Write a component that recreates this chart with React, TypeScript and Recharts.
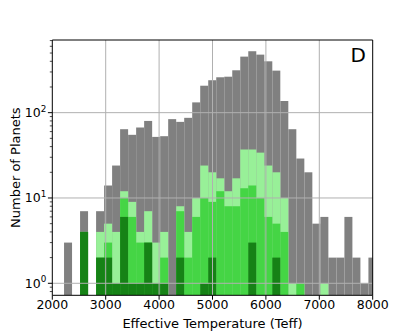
import React from "react";
import { BarChart, Bar, XAxis, YAxis, ReferenceLine } from "recharts";

// histogram bin centres (bins are 150 K wide)
const binCenters = [
  2295, 2445, 2595, 2745, 2895, 3045, 3195, 3345, 3495, 3645, 3795, 3945, 4095,
  4245, 4395, 4545, 4695, 4845, 4995, 5145, 5295, 5445, 5595, 5745, 5895, 6045,
  6195, 6345, 6495, 6645, 6795, 6945, 7095, 7245, 7395, 7545, 7695, 7845, 7995,
];

// counts per bin, null = empty bin
const allPlanets = [
  3, null, 7, null, 7, 14, 24, 64, 55, 67, 80, 52, 53, 84, 78, 87, 132, 207,
  240, 260, 264, 314, 454, 525, 479, 400, 311, 137, 64, 29, 20, 5, 6, 2, 2, 6,
  2, 1, 2,
];
const lightCounts = [
  null, null, 4, null, 4, 5, 4, 12, 9, 4, 7, 3, 4, null, 8, 4, 10, 24, 20, 17,
  12, 17, 37, 37, 34, 24, 20, 10, 1, 1, null, null, 1, null, null, null, null,
  null, null,
];
const mediumCounts = [
  null, null, 4, null, 2, 3, 1, 10, 6, 3, 3, 1, 2, null, 7, 2, 6, 10, 9, 12, 8,
  8, 13, 14, 10, 6, 5, 4, null, 1, null, null, null, null, null, null, null,
  null, null,
];
const darkCounts = [
  null, null, 4, null, 2, 2, 1, 6, 1, 1, 3, 1, 1, null, 2, null, null, 1, 2,
  null, null, null, null, 3, null, null, 2, null, null, null, null, null, null,
  null, null, null, null, null, null,
];

const xTicks = [2000, 3000, 4000, 5000, 6000, 7000, 8000];
const yMajor = [1, 10, 100];
const yMinor = [
  0.8, 0.9, 2, 3, 4, 5, 6, 7, 8, 9, 20, 30, 40, 50, 60, 70, 80, 90, 200, 300,
  400, 500, 600, 700,
];

const data = binCenters.map((x, i) => ({
  x,
  all: allPlanets[i],
  light: lightCounts[i],
  medium: mediumCounts[i],
  dark: darkCounts[i],
}));

const FONT = "DejaVu Sans";
const GRID = "#b0b0b0";

const barShape = (key: string) => (props: any) => {
  const { x, y, width, height, fill, payload } = props;
  if (payload[key] == null || !isFinite(y) || !isFinite(height)) return <g />;
  return <rect x={x} y={y} width={width} height={height} fill={fill} />;
};

function YTick(props: any) {
  const { x, y, payload } = props;
  const v = payload.value;
  const major = yMajor.includes(v);
  const exp = Math.round(Math.log10(v));
  return (
    <g>
      <line
        x1={x - (major ? 4.4 : 2.5)}
        x2={x}
        y1={y}
        y2={y}
        stroke="#000"
        strokeWidth={major ? 1 : 0.7}
      />
      {major && (
        <text
          x={x - 6}
          y={y + 4.5}
          textAnchor="end"
          fontFamily={FONT}
          fontSize={12.5}
          fill="#000"
        >
          10
          <tspan dy={-5.5} fontSize={8.8}>
            {exp}
          </tspan>
        </text>
      )}
    </g>
  );
}

export default function App() {
  return (
    <div style={{ position: "absolute", left: 0, top: 0, width: 415, height: 332 }}>
      <BarChart
        width={415}
        height={332}
        data={data}
        margin={{ top: 40, right: 42.3, bottom: 0, left: 0 }}
        barCategoryGap={0}
        barGap={0}
      >
        <XAxis
          xAxisId={0}
          type="number"
          dataKey="x"
          domain={[2000, 8000]}
          allowDataOverflow
          ticks={xTicks}
          interval={0}
          height={36.7}
          tickSize={4.4}
          tickMargin={0}
          tick={{ fontSize: 12.5, fill: "#000", fontFamily: FONT }}
          tickLine={{ stroke: "#000" }}
          axisLine={{ stroke: "#000" }}
        />
        {["l", "m", "d"].map((id) => (
          <XAxis
            key={id}
            xAxisId={id}
            type="number"
            dataKey="x"
            domain={[2000, 8000]}
            allowDataOverflow
            hide
          />
        ))}
        <YAxis
          scale="log"
          domain={[0.723, 711]}
          allowDataOverflow
          ticks={[...yMinor, ...yMajor]}
          interval={0}
          width={52.3}
          tickSize={0}
          tickMargin={0}
          tickLine={false}
          tick={<YTick />}
          axisLine={{ stroke: "#000" }}
        />
        <Bar xAxisId={0} dataKey="all" fill="#808080" isAnimationActive={false} shape={barShape("all")} />
        <Bar xAxisId="l" dataKey="light" fill="#98f098" isAnimationActive={false} shape={barShape("light")} />
        <Bar xAxisId="m" dataKey="medium" fill="#45d545" isAnimationActive={false} shape={barShape("medium")} />
        <Bar xAxisId="d" dataKey="dark" fill="#168216" isAnimationActive={false} shape={barShape("dark")} />
        {yMajor.map((v) => (
          <ReferenceLine key={`gy${v}`} y={v} stroke={GRID} strokeWidth={1} />
        ))}
        {xTicks.slice(1, -1).map((v) => (
          <ReferenceLine key={`gx${v}`} x={v} stroke={GRID} strokeWidth={1} />
        ))}
        <ReferenceLine y={711} stroke="#000" strokeWidth={1} />
        <ReferenceLine x={8000} stroke="#000" strokeWidth={1} />
      </BarChart>
      <svg
        width={415}
        height={332}
        style={{ position: "absolute", left: 0, top: 0, pointerEvents: "none" }}
      >
        <text
          transform="translate(20,167.7) rotate(-90)"
          textAnchor="middle"
          fontFamily={FONT}
          fontSize={13}
          fill="#000"
        >
          Number of Planets
        </text>
        <text x={212.5} y={327.5} textAnchor="middle" fontFamily={FONT} fontSize={13} fill="#000">
          Effective Temperature (Teff)
        </text>
        <text x={366} y={62} textAnchor="end" fontFamily={FONT} fontSize={20} fill="#000">
          D
        </text>
      </svg>
    </div>
  );
}
